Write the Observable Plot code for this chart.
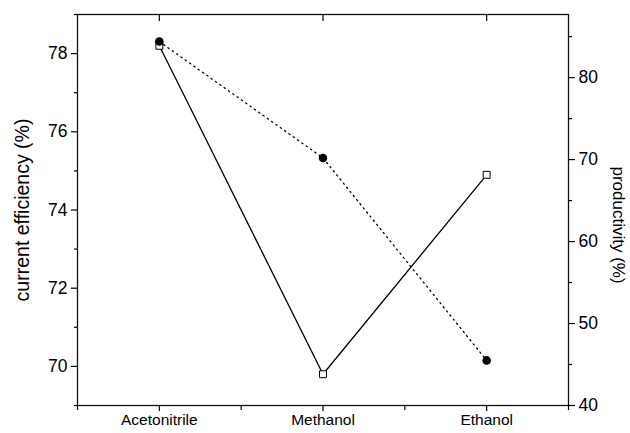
<!DOCTYPE html>
<html><head>
<meta charset="utf-8">
<script src="https://cdn.jsdelivr.net/npm/d3@7"></script>
<script src="https://cdn.jsdelivr.net/npm/@observablehq/plot@0.6"></script>
<style>body{margin:0;background:#fff}</style>
</head><body><div id="chart"></div>
<script>
const categories = ["Acetonitrile", "Methanol", "Ethanol"];
const currentEfficiency = [78.2, 69.8, 74.9];
const productivity = [84.4, 70.2, 45.5];
const leftTicks = [70, 72, 74, 76, 78];
const leftMinor = [69, 71, 73, 75, 77, 79];
const rightTicks = [40, 50, 60, 70, 80];
const rightMinor = [45, 55, 65, 75, 85];
const leftDomain = [69, 79];
const rightDomain = [40, 87.7];
const leftLabel = "current efficiency (%)";
const rightLabel = "productivity (%)";

const toLeft = d3.scaleLinear(rightDomain, leftDomain);
const eff = categories.map((c, i) => ({x: i + 1, y: currentEfficiency[i]}));
const prod = categories.map((c, i) => ({x: i + 1, y: toLeft(productivity[i])}));
const catPos = categories.map((c, i) => i + 1);
const catMinor = [0.5, 1.5, 2.5, 3.5];

const font = "Liberation Sans, Arial, Helvetica, sans-serif";

const chart = Plot.plot({
  width: 630,
  height: 433,
  marginLeft: 77,
  marginRight: 62,
  marginTop: 14,
  marginBottom: 28,
  style: {fontFamily: font, fontSize: "16px", color: "#000", background: "#fff"},
  x: {type: "linear", domain: [0.5, 3.5], axis: null},
  y: {domain: leftDomain, axis: null},
  marks: [
    Plot.frame({stroke: "#111", strokeWidth: 1.3}),
    // left axis
    Plot.axisY(leftTicks, {anchor: "left", tickSize: 6, tickPadding: 4, fontSize: 17.5, label: null, strokeWidth: 1.2}),
    Plot.axisY(leftMinor, {anchor: "left", tickSize: 3, tickFormat: () => "", label: null, strokeWidth: 1.2}),
    // right axis
    Plot.axisY(rightTicks.map(toLeft), {anchor: "right", tickSize: 6, tickPadding: 4, fontSize: 17.5, label: null, strokeWidth: 1.2,
      tickFormat: d => String(Math.round(toLeft.invert(d)))}),
    Plot.axisY(rightMinor.map(toLeft), {anchor: "right", tickSize: 3, tickFormat: () => "", label: null, strokeWidth: 1.2}),
    // bottom axis
    Plot.axisX(catPos, {anchor: "bottom", tickSize: 6, tickPadding: 2, fontSize: 15.5, label: null, strokeWidth: 1.2,
      tickFormat: d => categories[d - 1]}),
    Plot.axisX(catMinor, {anchor: "bottom", tickSize: 5, tickFormat: () => "", label: null, strokeWidth: 1.2}),
    // top axis (inward ticks)
    Plot.axisX(catPos, {anchor: "top", tickSize: -6, tickFormat: () => "", label: null, strokeWidth: 1.2}),
    // axis titles
    Plot.text([leftLabel], {frameAnchor: "left", dx: -55, rotate: -90, textAnchor: "middle", fontSize: 19.5, fill: "#000"}),
    Plot.text([rightLabel], {frameAnchor: "right", dx: 50, dy: 15, rotate: 90, textAnchor: "middle", fontSize: 17, fill: "#000"}),
    // series
    Plot.line(eff, {x: "x", y: "y", stroke: "#000", strokeWidth: 1.3}),
    Plot.line(prod, {x: "x", y: "y", stroke: "#000", strokeWidth: 1.3, strokeDasharray: "1.3,4"}),
    Plot.dot(eff, {x: "x", y: "y", symbol: "square", r: 3.9, fill: "#fff", stroke: "#000", strokeWidth: 1}),
    Plot.dot(prod, {x: "x", y: "y", r: 4.3, fill: "#000", stroke: "none"})
  ]
});
document.getElementById("chart").appendChild(chart);
</script>
</body></html>
